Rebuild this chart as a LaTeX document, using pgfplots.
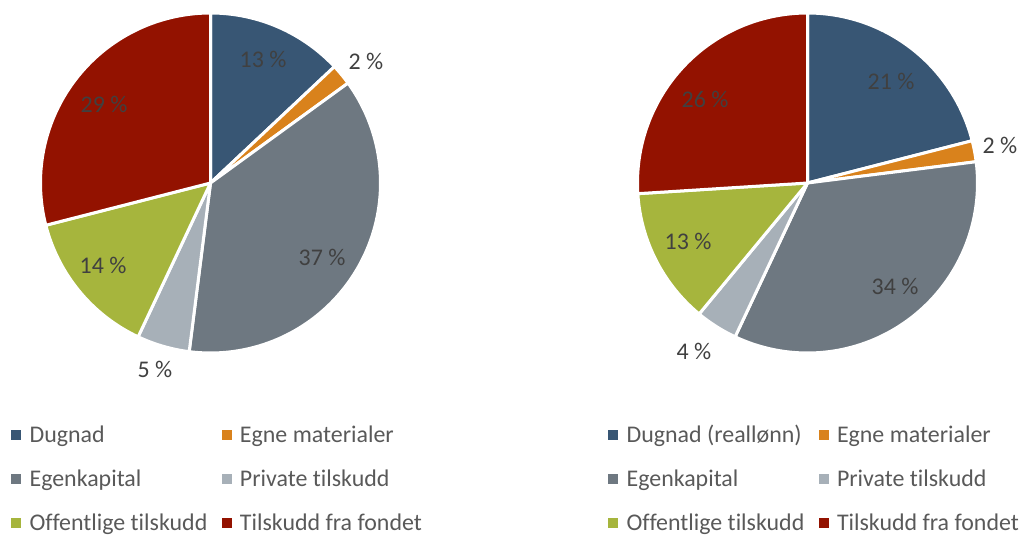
\documentclass[border=0pt]{standalone}
\usepackage{pgfplots}
\pgfplotsset{compat=1.18}
\usepackage{fontspec}
\setmainfont{Carlito}[Ligatures=NoCommon]
\definecolor{cBlue}{HTML}{385674}
\definecolor{cOrange}{HTML}{D9821C}
\definecolor{cGray}{HTML}{6E7881}
\definecolor{cLight}{HTML}{A7B0B8}
\definecolor{cGreen}{HTML}{A6B53D}
\definecolor{cRed}{HTML}{931200}
\definecolor{lgray}{HTML}{595959}
\definecolor{dgray}{HTML}{404040}
\newcommand{\lfont}{\fontsize{24}{28}\selectfont}
\pgfplotsset{
  pie/.style={x=1bp, y=1bp, scale only axis, hide axis, ymin=-352, ymax=183, clip=false,
    legend columns=2,
    legend image code/.code={\fill[##1] (0bp,-2.8bp) rectangle (9bp,6.2bp);},
    legend style={at={(axis cs:-199.5,-242)}, anchor=north west, draw=none, fill=none,
      inner sep=0pt, row sep=22bp, font=\lfont, text=lgray, cells={anchor=west},
      nodes={inner sep=0pt, text height=17bp, text depth=5bp},
      /tikz/every odd column/.append style={column sep=9bp},
      /tikz/every even column/.append style={column sep=10bp}},
  },
  slice/.style={forget plot, fill=#1, draw=white, line width=3bp, line join=round, samples=80},
}
\tikzset{lab/.style={font=\lfont, text=dgray, inner sep=0pt, anchor=center}}
\begin{document}
\begin{tikzpicture}
\path (0bp,0bp) rectangle (1022bp,535bp);
% Left pie: 13, 2, 37, 5, 14, 29 (percent), clockwise from top
\begin{axis}[pie, xmin=-210.5, xmax=300.5, at={(0bp,0bp)}, anchor=south west]
\addplot[slice=cBlue,   domain=90-3.6*13:90-3.6*0]   ({170*cos(x)},{170*sin(x)}) -- (axis cs:0,0) -- cycle;
\addplot[slice=cOrange, domain=90-3.6*15:90-3.6*13]  ({170*cos(x)},{170*sin(x)}) -- (axis cs:0,0) -- cycle;
\addplot[slice=cGray,   domain=90-3.6*52:90-3.6*15]  ({170*cos(x)},{170*sin(x)}) -- (axis cs:0,0) -- cycle;
\addplot[slice=cLight,  domain=90-3.6*57:90-3.6*52]  ({170*cos(x)},{170*sin(x)}) -- (axis cs:0,0) -- cycle;
\addplot[slice=cGreen,  domain=90-3.6*71:90-3.6*57]  ({170*cos(x)},{170*sin(x)}) -- (axis cs:0,0) -- cycle;
\addplot[slice=cRed,    domain=90-3.6*100:90-3.6*71] ({170*cos(x)},{170*sin(x)}) -- (axis cs:0,0) -- cycle;
\node[lab] at (axis cs:52.5,124) {13 \%};
\node[lab] at (axis cs:155.5,122) {2 \%};
\node[lab] at (axis cs:111.5,-74) {37 \%};
\node[lab] at (axis cs:-55.5,-186) {5 \%};
\node[lab] at (axis cs:-107.5,-82) {14 \%};
\node[lab] at (axis cs:-106.5,79) {29 \%};
\addlegendimage{cBlue}   \addlegendentry{\makebox[182bp][l]{Dugnad}}
\addlegendimage{cOrange} \addlegendentry{Egne materialer}
\addlegendimage{cGray}   \addlegendentry{\makebox[182bp][l]{Egenkapital}}
\addlegendimage{cLight}  \addlegendentry{Private tilskudd}
\addlegendimage{cGreen}  \addlegendentry{\makebox[182bp][l]{Offentlige tilskudd}}
\addlegendimage{cRed}    \addlegendentry{Tilskudd fra fondet}
\end{axis}
% Right pie: 21, 2, 34, 4, 13, 26 (percent)
\begin{axis}[pie, xmin=-296.5, xmax=214.5, at={(511bp,0bp)}, anchor=south west]
\addplot[slice=cBlue,   domain=90-3.6*21:90-3.6*0]   ({170*cos(x)},{170*sin(x)}) -- (axis cs:0,0) -- cycle;
\addplot[slice=cOrange, domain=90-3.6*23:90-3.6*21]  ({170*cos(x)},{170*sin(x)}) -- (axis cs:0,0) -- cycle;
\addplot[slice=cGray,   domain=90-3.6*57:90-3.6*23]  ({170*cos(x)},{170*sin(x)}) -- (axis cs:0,0) -- cycle;
\addplot[slice=cLight,  domain=90-3.6*61:90-3.6*57]  ({170*cos(x)},{170*sin(x)}) -- (axis cs:0,0) -- cycle;
\addplot[slice=cGreen,  domain=90-3.6*74:90-3.6*61]  ({170*cos(x)},{170*sin(x)}) -- (axis cs:0,0) -- cycle;
\addplot[slice=cRed,    domain=90-3.6*100:90-3.6*74] ({170*cos(x)},{170*sin(x)}) -- (axis cs:0,0) -- cycle;
\node[lab] at (axis cs:83.5,102) {21 \%};
\node[lab] at (axis cs:192.5,38) {2 \%};
\node[lab] at (axis cs:87.5,-103) {34 \%};
\node[lab] at (axis cs:-113.5,-168) {4 \%};
\node[lab] at (axis cs:-119.5,-58) {13 \%};
\node[lab] at (axis cs:-102.5,84) {26 \%};
\addlegendimage{cBlue}   \addlegendentry{\makebox[182bp][l]{Dugnad (reallønn)}}
\addlegendimage{cOrange} \addlegendentry{Egne materialer}
\addlegendimage{cGray}   \addlegendentry{\makebox[182bp][l]{Egenkapital}}
\addlegendimage{cLight}  \addlegendentry{Private tilskudd}
\addlegendimage{cGreen}  \addlegendentry{\makebox[182bp][l]{Offentlige tilskudd}}
\addlegendimage{cRed}    \addlegendentry{Tilskudd fra fondet}
\end{axis}
\end{tikzpicture}
\end{document}
